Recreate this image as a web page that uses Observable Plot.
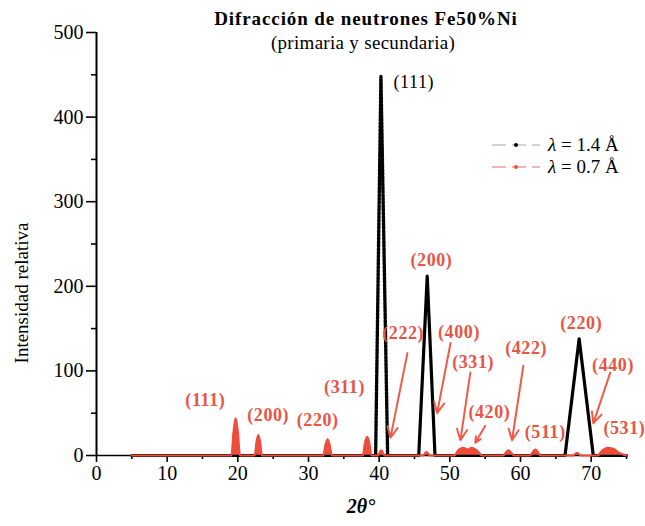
<!DOCTYPE html>
<html>
<head>
<meta charset="utf-8">
<script src="https://cdn.jsdelivr.net/npm/d3@7"></script>
<script src="https://cdn.jsdelivr.net/npm/@observablehq/plot@0.6"></script>
<style>
  html, body { margin: 0; padding: 0; background: #fff; }
  #wrap { position: relative; width: 645px; height: 526px; }
  #overlay { position: absolute; left: 0; top: 0; pointer-events: none; }
  text { font-family: "Liberation Serif", "DejaVu Serif", serif; }
  .lab text { letter-spacing: 0.6px; }
</style>
</head>
<body>
<div id="wrap"></div>
<script>
// ---- data ----
// λ = 1.4 Å (black)
const blackX = [5, 39.5, 40.25, 41.2, 45.6, 46.8, 47.9, 66.3, 68.3, 70.3, 75];
const blackY = [0, 0, 448, 0, 0, 212, 0, 0, 138, 0, 0];

// λ = 0.7 Å (red)
const redX = [5, 19.1, 19.4, 19.7, 20.0, 20.3,
  22.4, 22.65, 22.9, 23.15, 23.4,
  32.1, 32.4, 32.7, 33.0, 33.3,
  37.7, 38.0, 38.3, 38.6, 38.9,
  39.8, 40.3, 40.8,
  46.2, 46.7, 47.2,
  50.6, 51.3, 51.9, 52.5, 53.1, 53.8, 54.6,
  57.5, 58.3, 59.1,
  61.3, 62.1, 62.9,
  67.4, 68.0, 68.6,
  70.9, 71.6, 72.3, 73.1, 74.0, 75];
const redY = [0, 0, 28, 44, 28, 0,
  0, 16, 24, 16, 0,
  0, 12, 19, 12, 0,
  0, 15, 22, 15, 0,
  0, 6, 0,
  0, 4, 0,
  0, 7, 9, 7, 9, 6, 0,
  0, 6, 0,
  0, 7, 0,
  0, 3, 0,
  0, 6, 9, 8, 3, 0];

// peak labels
const redLabels = ["(111)", "(200)", "(220)", "(311)", "(222)", "(200)", "(400)", "(331)", "(420)", "(422)", "(511)", "(220)", "(440)", "(531)"];
const redLabelX = [15.4, 24.3, 31.3, 35.1, 43.4, 47.4, 51.3, 53.3, 55.6, 60.8, 63.5, 68.6, 73.1, 74.7];
const redLabelY = [65, 48, 42, 81, 144, 231, 146, 110, 51, 127, 27, 156, 107, 32];
const blackLabels = ["(111)"];
const blackLabelX = [44.9];
const blackLabelY = [441];

// annotation arrows
const arrowX1 = [44.0, 50.1, 52.9, 55.0, 60.4, 72.7];
const arrowY1 = [121, 133, 98, 35, 106, 98];
const arrowX2 = [41.6, 48.2, 51.5, 53.6, 58.8, 70.3];
const arrowY2 = [21, 50, 18, 15, 18, 38];

// ticks
const xMajor = [0, 10, 20, 30, 40, 50, 60, 70];
const xMinor = [5, 15, 25, 35, 45, 55, 65, 75];
const yMajor = [0, 100, 200, 300, 400, 500];
const yMinor = [50, 150, 250, 350, 450];

const titleText = "Difracción de neutrones Fe50%Ni";
const subtitleText = "(primaria y secundaria)";
const xLabel = "2θ°";
const yLabel = "Intensidad relativa";
const legendLabels = ["1.4 Å", "0.7 Å"];

// ---- build tables ----
const black = blackX.map((x, i) => ({x, y: blackY[i]}));
const red = redX.map((x, i) => ({x, y: redY[i]}));
const redLab = redLabels.map((t, i) => ({t, x: redLabelX[i], y: redLabelY[i]}));
const blackLab = blackLabels.map((t, i) => ({t, x: blackLabelX[i], y: blackLabelY[i]}));
const arrows = arrowX1.map((x1, i) => ({x1, y1: arrowY1[i], x2: arrowX2[i], y2: arrowY2[i]}));

const RED = "#ee4d3c";
const LABRED = "#e85545";
const FONT = "Liberation Serif";

const peak111 = black.filter(d => d.x >= 39.5 && d.x <= 41.2);
const blackRest = black.filter(d => !(d.x > 39.5 && d.x < 41.2));

const chart = Plot.plot({
  width: 645,
  height: 526,
  marginLeft: 96,
  marginRight: 19,
  marginTop: 32,
  marginBottom: 71,
  style: {fontFamily: FONT, fontSize: "20px", background: "white", color: "black"},
  x: {domain: [0, 75]},
  y: {domain: [0, 500]},
  marks: [
    Plot.axisX({ticks: xMajor, tickSize: 7, tickPadding: 3, strokeWidth: 1.6, fontSize: 20, label: null}),
    Plot.axisX({ticks: xMinor, tickSize: 4, strokeWidth: 1.6, tickFormat: () => "", label: null}),
    Plot.axisY({ticks: yMajor, tickSize: 10, tickPadding: 3, strokeWidth: 1.6, fontSize: 20, label: null}),
    Plot.axisY({ticks: yMinor, tickSize: 5, strokeWidth: 1.6, tickFormat: () => "", label: null}),
    Plot.lineY(blackRest, {x: "x", y: "y", stroke: "black", strokeWidth: 3.2}),
    Plot.lineY(peak111, {x: "x", y: "y", stroke: "black", strokeWidth: 3.4, strokeDasharray: "2.2,1.4"}),
    Plot.areaY(red, {x: "x", y: "y", fill: RED, curve: "monotone-x"}),
    Plot.ruleY([0], {stroke: "black", strokeWidth: 1.6}),
    Plot.ruleX([0], {stroke: "black", strokeWidth: 2}),
    Plot.lineY(red, {x: "x", y: "y", stroke: RED, strokeWidth: 2.2, curve: "monotone-x"}),
    Plot.arrow(arrows, {x1: "x1", y1: "y1", x2: "x2", y2: "y2", stroke: "#ef5b4b", strokeWidth: 2, headLength: 9, headAngle: 50}),
    Plot.text(redLab, {x: "x", y: "y", text: "t", fill: LABRED, fontSize: 18, fontWeight: "bold", className: "lab"}),
    Plot.text(blackLab, {x: "x", y: "y", text: "t", fill: "black", fontSize: 18, className: "lab"})
  ]
});

const wrap = document.getElementById("wrap");
wrap.appendChild(chart);

// overlay: title, subtitle, axis labels, legend
const svg = d3.select(wrap).append("svg")
  .attr("id", "overlay").attr("width", 645).attr("height", 526);

svg.append("text").attr("x", 366).attr("y", 25).attr("text-anchor", "middle")
  .attr("font-size", 19).attr("font-weight", "bold").attr("letter-spacing", 0.9).text(titleText);
svg.append("text").attr("x", 363).attr("y", 49).attr("text-anchor", "middle")
  .attr("font-size", 19).attr("letter-spacing", 0.3).text(subtitleText);
svg.append("text").attr("transform", "translate(28,293) rotate(-90)").attr("text-anchor", "middle")
  .attr("font-size", 19).text(yLabel);
svg.append("text").attr("x", 361).attr("y", 513).attr("text-anchor", "middle")
  .attr("font-size", 20).attr("font-weight", "bold").attr("font-style", "italic").text(xLabel);

const legColors = [{line: "#c4c4c4", dot: "black"}, {line: "#f39a95", dot: RED}];
legendLabels.forEach((lab, i) => {
  const cy = 145 + i * 22;
  svg.append("line").attr("x1", 492).attr("x2", 540).attr("y1", cy).attr("y2", cy)
    .attr("stroke", legColors[i].line).attr("stroke-width", 1.6).attr("stroke-dasharray", "14,6");
  svg.append("circle").attr("cx", 516).attr("cy", cy).attr("r", 2).attr("fill", legColors[i].dot);
  const t = svg.append("text").attr("x", 548).attr("y", cy + 6).attr("font-size", 19);
  t.append("tspan").attr("font-style", "italic").text("λ");
  t.append("tspan").text(" = " + lab);
});
</script>
</body>
</html>
